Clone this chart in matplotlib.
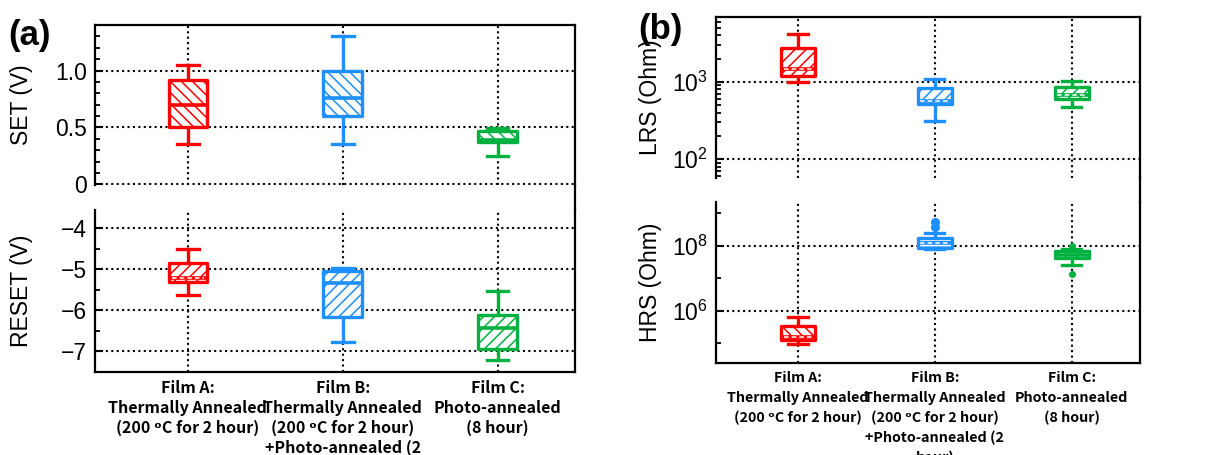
import matplotlib
matplotlib.use("Agg")
import matplotlib.pyplot as plt
from matplotlib.ticker import MultipleLocator, FixedLocator, NullFormatter
from matplotlib.lines import Line2D

# ---------------- data ----------------
categories = [
    "Film A:\nThermally Annealed\n(200 \u1d52C for 2 hour)",
    "Film B:\nThermally Annealed\n(200 \u1d52C for 2 hour)\n+Photo-annealed (2\nhour)",
    "Film C:\nPhoto-annealed\n(8 hour)",
]
positions = [1, 2, 3]

set_whislo = [0.35, 0.35, 0.245]
set_q1 = [0.50, 0.60, 0.37]
set_med = [0.70, 0.755, 0.39]
set_q3 = [0.92, 1.00, 0.47]
set_whishi = [1.05, 1.30, 0.497]
set_mean = [None, None, None]

reset_whislo = [-5.63, -6.76, -7.20]
reset_q1 = [-5.31, -6.16, -6.94]
reset_med = [-5.22, -5.33, -6.42]
reset_q3 = [-4.85, -5.04, -6.10]
reset_whishi = [-4.49, -4.97, -5.52]
reset_mean = [-5.22, None, None]

lrs_whislo = [1000, 312, 473]
lrs_q1 = [1183, 516, 603]
lrs_med = [1450, 560, 674]
lrs_q3 = [2770, 830, 863]
lrs_whishi = [4110, 1093, 1020]
lrs_mean = [1450, 560, 674]

hrs_whislo = [9.6e4, 8.3e7, 2.5e7]
hrs_q1 = [1.26e5, 8.5e7, 4.2e7]
hrs_med = [1.6e5, 1.2e8, 5.3e7]
hrs_q3 = [3.4e5, 1.7e8, 7.0e7]
hrs_whishi = [6.3e5, 2.45e8, 8.0e7]
hrs_mean = [1.6e5, 1.2e8, None]
hrs_fliers = [[], [5.5e8, 3.9e8], [1.0e8, 1.35e7]]

set_ticks = [0, 0.5, 1.0]
set_ticklabels = ["0", "0.5", "1.0"]
reset_ticks = [-4, -5, -6, -7]
reset_ticklabels = ["\u22124", "\u22125", "\u22126", "\u22127"]
lrs_ticks = [1e2, 1e3]
lrs_ticklabels = [r"$\mathregular{10^{2}}$", r"$\mathregular{10^{3}}$"]
hrs_ticks = [1e6, 1e8]
hrs_ticklabels = [r"$\mathregular{10^{6}}$", r"$\mathregular{10^{8}}$"]
hrs_minor = [1e5, 1e7, 1e9]

colors = ["#FF0000", "#1E8FFF", "#00B140"]

# ---------------- style ----------------
plt.rcParams["font.family"] = ["Liberation Sans", "DejaVu Sans"]
plt.rcParams["hatch.linewidth"] = 1.1
plt.rcParams["axes.linewidth"] = 1.6

W, H = 1211, 455
fig = plt.figure(figsize=(W / 100, H / 100), dpi=100)


def rect(l, r, t, b):
    return [l / W, 1 - b / H, (r - l) / W, (b - t) / H]


ax_set = fig.add_axes(rect(95, 575, 25, 185))
ax_reset = fig.add_axes(rect(95, 575, 210, 372))
ax_lrs = fig.add_axes(rect(716, 1140, 17, 178))
ax_hrs = fig.add_axes(rect(716, 1140, 202, 363))

dot = (0, (1, 1.6))


def make_stats(lo, q1, med, q3, hi, fliers=None):
    out = []
    for i in range(len(lo)):
        out.append(dict(whislo=lo[i], q1=q1[i], med=med[i], q3=q3[i], whishi=hi[i],
                        fliers=(fliers[i] if fliers else []), mean=med[i]))
    return out


def draw(ax, stats, means, hatches, fliers=False):
    res = ax.bxp(stats, positions=positions, widths=0.25, capwidths=0.14,
                 patch_artist=True, showfliers=fliers, showmeans=False,
                 manage_ticks=False)
    for i, c in enumerate(colors):
        b = res["boxes"][i]
        b.set_facecolor("white")
        b.set_edgecolor(c)
        b.set_hatch(hatches[i])
        b.set_linewidth(2.4)
        b.set_joinstyle("round")
        b.set_zorder(3)
        for w in res["whiskers"][2 * i:2 * i + 2]:
            w.set_color(c); w.set_linewidth(2.4); w.set_zorder(2.5)
        for cp in res["caps"][2 * i:2 * i + 2]:
            cp.set_color(c); cp.set_linewidth(2.4); cp.set_zorder(2.5)
        m = res["medians"][i]
        m.set_color(c); m.set_linewidth(2.6); m.set_zorder(4)
        if fliers:
            f = res["fliers"][i]
            f.set_marker("o"); f.set_markerfacecolor(c); f.set_markeredgecolor(c)
            f.set_markersize(5.5 if i == 1 else 4); f.set_zorder(4)
        if means[i] is not None:
            ax.plot([positions[i] - 0.105, positions[i] + 0.105], [means[i], means[i]],
                    color="white", linewidth=1.1, linestyle=(0, (3, 2)), zorder=5)


for ax in (ax_set, ax_reset, ax_lrs, ax_hrs):
    ax.set_xlim(0.4, 3.5)
    ax.set_xticks(positions)
    ax.grid(True, which="major", color="black", linestyle=dot, linewidth=1.5, zorder=1)
    ax.set_axisbelow(True)
    ax.tick_params(axis="y", which="major", direction="in", length=6, width=1.5,
                   labelsize=16.5, pad=6, right=False)
    ax.tick_params(axis="y", which="minor", direction="in", length=3.5, width=1.3, right=False)
    ax.tick_params(axis="x", length=0)

for ax in (ax_set, ax_lrs):
    ax.spines["bottom"].set_visible(False)
    ax.tick_params(axis="x", labelbottom=False)
for ax in (ax_reset, ax_hrs):
    ax.spines["top"].set_visible(False)

# (a) SET
draw(ax_set, make_stats(set_whislo, set_q1, set_med, set_q3, set_whishi), set_mean,
     ["\\\\\\"] * 3)
ax_set.set_ylim(-0.006, 1.4)
ax_set.set_yticks(set_ticks, set_ticklabels)
ax_set.yaxis.set_minor_locator(MultipleLocator(0.1))
ax_set.set_ylabel("SET (V)", fontsize=16.5)

# (a) RESET
draw(ax_reset, make_stats(reset_whislo, reset_q1, reset_med, reset_q3, reset_whishi),
     reset_mean, ["///"] * 3)
ax_reset.set_ylim(-7.5, -3.55)
ax_reset.set_yticks(reset_ticks, reset_ticklabels)
ax_reset.yaxis.set_minor_locator(MultipleLocator(0.5))
ax_reset.set_ylabel("RESET (V)", fontsize=16.5)

# (b) LRS
ax_lrs.set_yscale("log")
draw(ax_lrs, make_stats(lrs_whislo, lrs_q1, lrs_med, lrs_q3, lrs_whishi), lrs_mean,
     ["///"] * 3)
ax_lrs.set_ylim(57, 6900)
ax_lrs.set_yticks(lrs_ticks, lrs_ticklabels)
ax_lrs.yaxis.set_minor_locator(matplotlib.ticker.LogLocator(base=10, subs=range(2, 10)))
ax_lrs.yaxis.set_minor_formatter(NullFormatter())
ax_lrs.set_ylabel("LRS (Ohm)", fontsize=16.5)

# (b) HRS
ax_hrs.set_yscale("log")
draw(ax_hrs, make_stats(hrs_whislo, hrs_q1, hrs_med, hrs_q3, hrs_whishi, hrs_fliers),
     hrs_mean, ["\\\\\\", "---", "///"], fliers=True)
ax_hrs.set_ylim(10 ** 4.4, 10 ** 9.35)
ax_hrs.set_yticks(hrs_ticks, hrs_ticklabels)
ax_hrs.yaxis.set_minor_locator(FixedLocator(hrs_minor))
ax_hrs.yaxis.set_minor_formatter(NullFormatter())
ax_hrs.set_ylabel("HRS (Ohm)", fontsize=16.5)

for ax in (ax_set, ax_reset):
    ax.yaxis.set_label_coords(-0.13, 0.5)
for ax in (ax_lrs, ax_hrs):
    ax.yaxis.set_label_coords(-0.128, 0.5)

# category labels
cat_font = ["Noto Sans CJK KR", "DejaVu Sans"]
ax_reset.set_xticks(positions)
ax_reset.set_xticklabels(categories, fontfamily=cat_font, fontweight="bold",
                         fontsize=11.5, linespacing=1.3)
ax_reset.tick_params(axis="x", pad=6)
ax_hrs.set_xticks(positions)
ax_hrs.set_xticklabels(categories, fontfamily=cat_font, fontweight="bold",
                       fontsize=10.3, linespacing=1.5)
ax_hrs.tick_params(axis="x", pad=6)

# right spine continuation across the gap
for (x, t, b) in ((575, 185, 210), (1140, 178, 202)):
    fig.add_artist(Line2D([x / W, x / W], [1 - t / H + 0.002, 1 - b / H - 0.002],
                          color="black", linewidth=1.6, transform=fig.transFigure))

fig.text(8 / W, 1 - 36 / H, "(a)", fontsize=25, fontweight="bold", va="center", ha="left")
fig.text(638 / W, 1 - 29 / H, "(b)", fontsize=25, fontweight="bold", va="center", ha="left")

fig.savefig("out.png", dpi=100)
